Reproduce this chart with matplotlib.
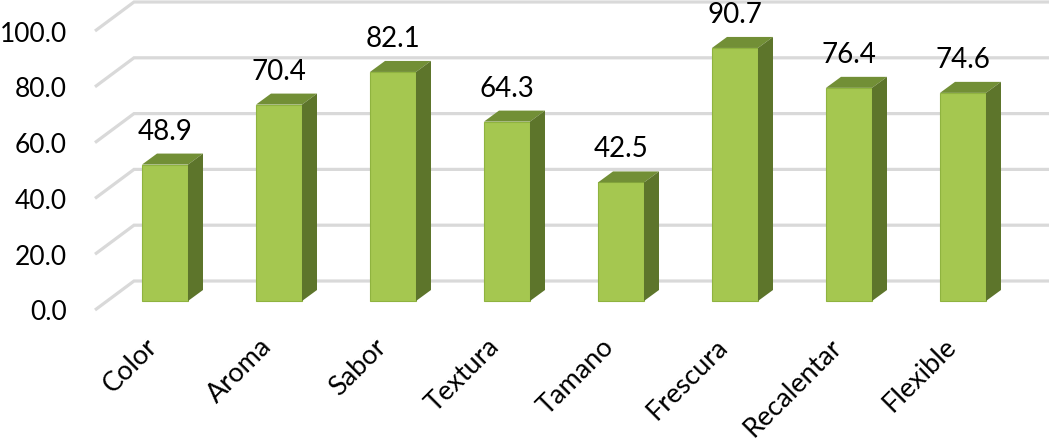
import matplotlib
matplotlib.use("Agg")
import matplotlib.pyplot as plt
import numpy as np

plt.rcParams['font.family'] = ['Lato', 'DejaVu Sans']

categories = ['Color', 'Aroma', 'Sabor', 'Textura', 'Tamano', 'Frescura', 'Recalentar', 'Flexible']
values = [48.9, 70.4, 82.1, 64.3, 42.5, 90.7, 76.4, 74.6]
y_ticks = [0, 20, 40, 60, 80, 100]

W, H = 1049, 445
fig = plt.figure(figsize=(W / 100, H / 100), dpi=100)
ax = fig.add_axes([0, 0, 1, 1])
ax.axis('off')

# one category = 114 px, one unit = 2.79 px, first bar centre at px 165, zero at px 301
px_x = 114.0
px_y = 2.79
ax.set_xlim(-165 / px_x, (W - 165) / px_x)
ax.set_ylim(-(H - 301) / px_y, 301 / px_y)

bar_w = 46 / px_x
dx = 15 / px_x
dy = 11 / px_y

# floor/wall offsets of the fake 3d frame
wall_x0 = (134 - 165) / px_x
wall_x1 = (W - 165) / px_x
front_x = (95 - 165) / px_x
wall_dy = 20 / px_y
front_dy = -9 / px_y

for t in y_ticks:
    ax.plot([front_x, wall_x0, wall_x1], [t + front_dy, t + wall_dy, t + wall_dy],
            color='#D9D9D9', lw=2.3, zorder=1, solid_capstyle='butt', solid_joinstyle='miter')
    ax.annotate(f'{t:.1f}', (front_x, t + front_dy), xytext=(-28, -3), textcoords='offset pixels',
                ha='right', va='center', fontsize=19, color='black')

x = np.arange(len(values))
ax.bar(x, values, width=bar_w, color='#A5C750', edgecolor='#8FB33F', lw=0.8, zorder=3)

for i, v in zip(x, values):
    left = i - bar_w / 2
    right = i + bar_w / 2
    ax.fill([left, right, right + dx, left + dx], [v, v, v + dy, v + dy],
            color='#728F36', lw=0, zorder=3)
    ax.fill([right, right + dx, right + dx, right], [0, dy, v + dy, v],
            color='#5D752B', lw=0, zorder=3)
    ax.annotate(f'{v:.1f}', (i, v), xytext=(0, 33), textcoords='offset pixels',
                ha='center', va='center', fontsize=20, color='black')

for i, name in zip(x, categories):
    ax.annotate(name, (i, 0), xytext=(-20, -33), textcoords='offset pixels', rotation=45,
                rotation_mode='anchor', ha='right', va='top', fontsize=19.5, color='black')

fig.savefig('out.png', dpi=100)
